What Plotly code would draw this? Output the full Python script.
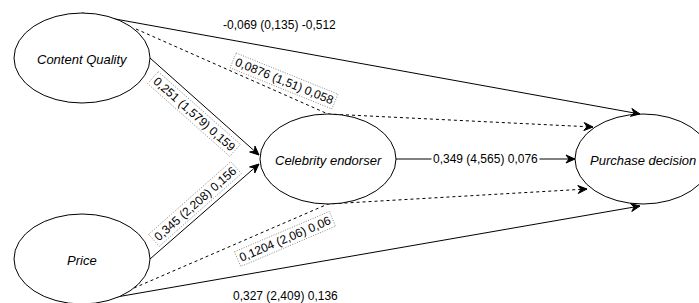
import math
import plotly.graph_objects as go

# ---------------- data ----------------
nodes = ["Content Quality", "Price", "Celebrity endorser", "Purchase decision"]
path_source = ["Content Quality", "Content Quality", "Content Quality", "Price",
               "Price", "Price", "Celebrity endorser"]
path_target = ["Purchase decision", "Purchase decision", "Celebrity endorser",
               "Celebrity endorser", "Purchase decision", "Purchase decision",
               "Purchase decision"]
path_kind = ["direct", "indirect", "direct", "direct", "indirect", "direct", "direct"]
path_coef = ["-0,069", "0,0876", "0,251", "0,345", "0,1204", "0,327", "0,349"]
path_t = ["0,135", "1,51", "1,579", "2,208", "2,06", "2,409", "4,565"]
path_f2 = ["-0,512", "0,058", "0,159", "0,156", "0,06", "0,136", "0,076"]

# ---------------- layout (pixel space of the diagram) ----------------
W, H = 699, 303
node_center = {
    "Content Quality": (82, 58),
    "Price": (82, 259),
    "Celebrity endorser": (328, 159),
    "Purchase decision": (643, 159),
}
node_rx, node_ry = 68, 45
# connector routes (start on source ellipse, optional waypoint, tip on target)
route = [
    [(82, 13), (640, 114)],
    [(136, 29), (328, 114), (593, 127)],
    [(150, 58), (259, 155)],
    [(150, 259), (259, 164)],
    [(134, 288), (328, 204), (587, 189)],
    [(82, 303), (640, 206)],
    [(396, 159), (575, 159)],
]
# label placement: x, y, angle, dotted box, white background
label_place = [
    (279, 25, 0, False, False),
    (284, 81, 22, True, False),
    (194, 114, 41.5, True, False),
    (195, 204, -41.5, True, False),
    (285, 239, -23, True, False),
    (285, 296, 0, False, False),
    (485, 159, 0, False, True),
]

FONT = "Helvetica, Liberation Sans, Arial, sans-serif"
LBL_SIZE = 12
NODE_SIZE = 13

char_w = {",": 0.278, " ": 0.278, "(": 0.333, ")": 0.333, "-": 0.333}


def text_width(s, size):
    return sum(char_w.get(c, 0.556) for c in s) * size


shapes = []
annotations = []

# connectors
for kind, pts in zip(path_kind, route):
    d = "M " + " L ".join(f"{x},{y}" for x, y in pts)
    shapes.append(dict(type="path", path=d, xref="x", yref="y",
                       line=dict(color="#000000", width=1,
                                 dash="3px,3px" if kind == "indirect" else "solid"),
                       layer="above"))

# nodes
for n in nodes:
    cx, cy = node_center[n]
    shapes.append(dict(type="circle", xref="x", yref="y",
                       x0=cx - node_rx, x1=cx + node_rx, y0=cy - node_ry, y1=cy + node_ry,
                       line=dict(color="#000000", width=1), fillcolor="white",
                       layer="above"))
    annotations.append(dict(x=cx, y=cy + 1, xref="x", yref="y", text=f"<i>{n}</i>",
                            showarrow=False, font=dict(family=FONT, size=NODE_SIZE,
                                                       color="#000000"),
                            xanchor="center", yanchor="middle"))

# arrowheads
AL, AW, AN = 9, 4, 3
for pts in route:
    (x1, y1), (x2, y2) = pts[-2], pts[-1]
    L = math.hypot(x2 - x1, y2 - y1)
    ux, uy = (x2 - x1) / L, (y2 - y1) / L
    nx, ny = -uy, ux
    p1 = (x2 - AL * ux + AW * nx, y2 - AL * uy + AW * ny)
    p2 = (x2 - (AL - AN) * ux, y2 - (AL - AN) * uy)
    p3 = (x2 - AL * ux - AW * nx, y2 - AL * uy - AW * ny)
    d = f"M {x2},{y2} L {p1[0]},{p1[1]} L {p2[0]},{p2[1]} L {p3[0]},{p3[1]} Z"
    shapes.append(dict(type="path", path=d, xref="x", yref="y",
                       line=dict(color="#000000", width=1), fillcolor="#000000",
                       layer="above"))

# path labels
for c, t, f, (lx, ly, ang, box, bg) in zip(path_coef, path_t, path_f2, label_place):
    txt = f"{c} ({t}) {f}"
    annotations.append(dict(x=lx, y=ly, xref="x", yref="y", text=txt, showarrow=False,
                            textangle=ang, xanchor="center", yanchor="middle",
                            font=dict(family=FONT, size=LBL_SIZE, color="#000000"),
                            bgcolor="white" if bg else "rgba(0,0,0,0)", borderpad=1))
    if box:
        bw = text_width(txt, LBL_SIZE) + 5
        bh = LBL_SIZE + 4
        a = math.radians(ang)
        ux, uy = math.cos(a), math.sin(a)
        nx, ny = -uy, ux
        corners = []
        for sx, sy in [(-1, -1), (1, -1), (1, 1), (-1, 1)]:
            corners.append((lx + sx * bw / 2 * ux + sy * bh / 2 * nx,
                            ly + sx * bw / 2 * uy + sy * bh / 2 * ny))
        d = "M " + " L ".join(f"{x:.2f},{y:.2f}" for x, y in corners) + " Z"
        shapes.append(dict(type="path", path=d, xref="x", yref="y",
                           line=dict(color="#8a8a8a", width=1, dash="1px,1.5px"),
                           layer="above"))

fig = go.Figure()
fig.update_layout(
    width=W, height=H,
    margin=dict(l=0, r=0, t=0, b=0),
    paper_bgcolor="white", plot_bgcolor="white",
    xaxis=dict(range=[0, W], visible=False, fixedrange=True),
    yaxis=dict(range=[H, 0], visible=False, fixedrange=True),
    shapes=shapes, annotations=annotations, showlegend=False,
)
fig.write_html("out.html", config={"displayModeBar": False},
               post_script="document.body.style.margin='0px';document.body.style.overflow='hidden';")
